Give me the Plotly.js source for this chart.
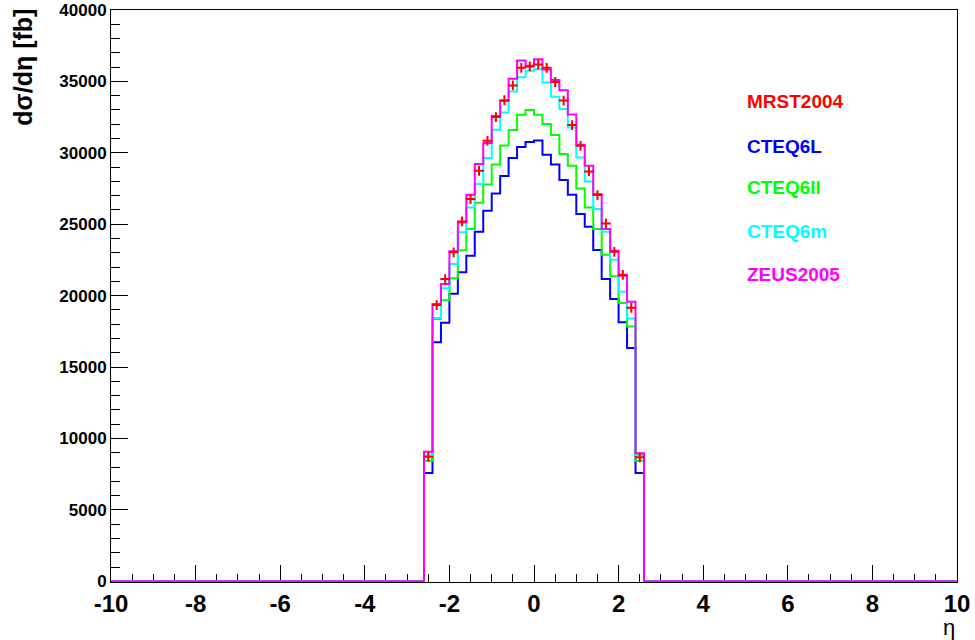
<!DOCTYPE html>
<html>
<head>
<meta charset="utf-8">
<script src="https://cdn.plot.ly/plotly-3.0.1.min.js"></script>
<style>
  html, body { margin: 0; padding: 0; background: #ffffff; }
  #chart { width: 975px; height: 640px; }
</style>
</head>
<body>
<div id="chart"></div>
<script>
// ---- data ----
const etaRange = [-10, 10];
const binWidth = 0.2;
const etaCenters = [-2.5, -2.3, -2.1, -1.9, -1.7, -1.5, -1.3, -1.1, -0.9, -0.7, -0.5, -0.3, -0.1,
                     0.1,  0.3,  0.5,  0.7,  0.9,  1.1,  1.3,  1.5,  1.7,  1.9,  2.1,  2.3,  2.5];

const seriesNames = ["MRST2004", "CTEQ6L", "CTEQ6ll", "CTEQ6m", "ZEUS2005"];

const mrst2004 = [8720, 19340, 21160, 23030, 25200, 26760, 28740, 30840, 32500, 33680, 34720, 35950, 36050,
                  36180, 35950, 34960, 33660, 31940, 30490, 28700, 27040, 25060, 23070, 21460, 19150, 8680];
const cteq6l   = [7580, 16730, 18100, 20130, 21630, 22790, 24470, 25940, 27150, 28370, 29640, 30410, 30750,
                  30870, 29870, 29180, 28100, 27060, 25710, 24820, 23190, 21160, 19760, 18130, 16330, 7580];
const cteq6ll  = [8440, 18360, 19680, 21210, 23180, 24660, 26500, 27780, 29180, 30510, 31600, 32660, 32990,
                  32660, 32010, 31250, 29910, 29090, 27510, 26180, 24660, 22860, 21350, 19480, 17840, 8440];
const cteq6m   = [8800, 18430, 20510, 22210, 24430, 26180, 27810, 29630, 31610, 32830, 34300, 35300, 35750,
                  35860, 34930, 33920, 33060, 31780, 29680, 28000, 26060, 24470, 22510, 20270, 18400, 8840];
const zeus2005 = [9070, 19410, 20810, 23100, 25130, 27060, 29210, 30680, 32580, 33620, 35190, 36470, 36090,
                  36560, 35840, 35100, 34380, 32680, 30560, 29090, 27110, 24660, 23140, 21390, 19580, 8960];

const xTickVals = [-10, -8, -6, -4, -2, 0, 2, 4, 6, 8, 10];
const xTickText = ["-10", "-8", "-6", "-4", "-2", "0", "2", "4", "6", "8", "10"];
const yTickVals = [0, 5000, 10000, 15000, 20000, 25000, 30000, 35000, 40000];
const yTickText = ["0", "5000", "10000", "15000", "20000", "25000", "30000", "35000", "40000"];

const colors = { MRST2004: "#ff0000", CTEQ6L: "#0000ff", CTEQ6ll: "#00ff00", CTEQ6m: "#00ffff", ZEUS2005: "#ff00ff" };

// ---- build ROOT-like step outline from bin centres ----
function stepTrace(values, color, name) {
  const xs = [etaRange[0]];
  const ys = [0];
  for (let i = 0; i < etaCenters.length; i++) {
    xs.push(etaCenters[i] - binWidth / 2);
    ys.push(values[i]);
  }
  xs.push(etaCenters[etaCenters.length - 1] + binWidth / 2);
  ys.push(0);
  xs.push(etaRange[1]);
  ys.push(0);
  return {
    type: "scatter", mode: "lines", name: name,
    x: xs, y: ys,
    line: { shape: "hv", color: color, width: 2 },
    hoverinfo: "skip", showlegend: false
  };
}

const traces = [
  stepTrace(cteq6l, colors.CTEQ6L, "CTEQ6L"),
  stepTrace(cteq6ll, colors.CTEQ6ll, "CTEQ6ll"),
  stepTrace(cteq6m, colors.CTEQ6m, "CTEQ6m"),
  stepTrace(zeus2005, colors.ZEUS2005, "ZEUS2005"),
  {
    type: "scatter", mode: "markers", name: "MRST2004",
    x: etaCenters, y: mrst2004,
    marker: { symbol: "cross-thin", size: 7, color: colors.MRST2004,
              line: { color: colors.MRST2004, width: 2 } },
    showlegend: false
  }
];

const font = "'Liberation Sans', Arial, Helvetica, sans-serif";

const legendY = [0.8405, 0.7618, 0.689, 0.6132, 0.5374];
const annotations = seriesNames.map((n, i) => ({
  xref: "paper", yref: "paper", x: 0.7494, y: legendY[i],
  xanchor: "left", yanchor: "middle", showarrow: false,
  text: n, font: { family: font, size: 19, color: colors[n], weight: "bold" }
}));
annotations.push({
  xref: "paper", yref: "paper", x: -0.104, y: 1.005,
  xanchor: "center", yanchor: "top", showarrow: false, textangle: -90,
  text: "dσ/dη [fb]", font: { family: font, size: 25, color: "#000", weight: "bold" }
});
annotations.push({
  xref: "paper", yref: "paper", x: 1.0, y: -0.08,
  xanchor: "right", yanchor: "middle", showarrow: false,
  text: "η", font: { family: font, size: 22, color: "#000" }
});

const layout = {
  width: 975, height: 640,
  margin: { l: 111, r: 18, t: 10, b: 58 },
  paper_bgcolor: "#ffffff", plot_bgcolor: "#ffffff",
  showlegend: false,
  xaxis: {
    range: etaRange, showgrid: false, zeroline: false, layer: "below traces",
    showline: true, linecolor: "#000", linewidth: 1, mirror: true,
    ticks: "inside", ticklen: 17, tickwidth: 1, tickcolor: "#000",
    tickvals: xTickVals, ticktext: xTickText,
    tickfont: { family: font, size: 24, color: "#000", weight: "bold" },
    minor: { dtick: 0.5, ticks: "inside", ticklen: 8.5, tickcolor: "#000", tickwidth: 1, showgrid: false }
  },
  yaxis: {
    range: [-50, 40000], showgrid: false, zeroline: false, layer: "below traces",
    showline: true, linecolor: "#000", linewidth: 1, mirror: true,
    ticks: "inside", ticklen: 17, tickwidth: 1, tickcolor: "#000",
    tickvals: yTickVals, ticktext: yTickText,
    tickfont: { family: font, size: 17, color: "#000", weight: "bold" },
    minor: { dtick: 1000, ticks: "inside", ticklen: 8.5, tickcolor: "#000", tickwidth: 1, showgrid: false }
  },
  annotations: annotations
};

Plotly.newPlot("chart", traces, layout, { displayModeBar: false, staticPlot: true });
</script>
</body>
</html>
